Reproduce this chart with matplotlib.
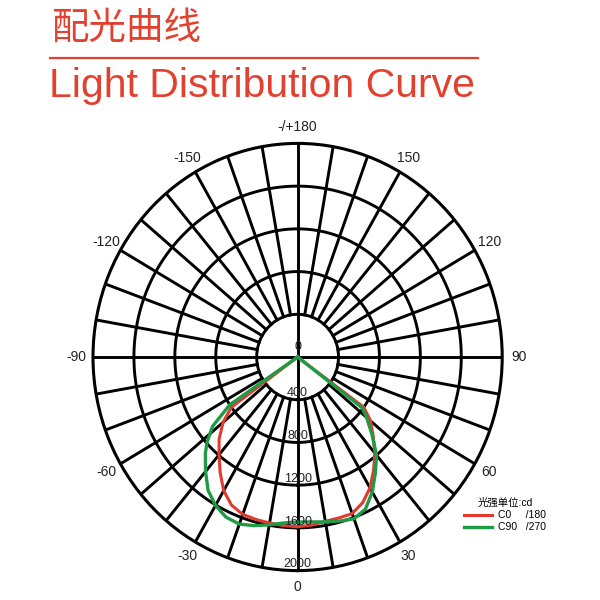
import numpy as np
import matplotlib.pyplot as plt
from matplotlib.lines import Line2D
from matplotlib.transforms import offset_copy

plt.rcParams['font.family'] = ['Liberation Sans', 'Noto Sans CJK SC']

# C0 / C180 plane (red): gamma angle in degrees (negative = C180 side), intensity in cd
red_angle = [-55, -54, -50, -45, -40, -35, -30, -25, -20, -15, -10, -5, 0,
             5, 10, 15, 20, 25, 30, 35, 40, 45, 50, 54, 55]
red_cd = [0, 800, 950, 1085, 1195, 1320, 1445, 1530, 1568, 1575, 1578, 1585, 1590,
          1580, 1562, 1560, 1560, 1505, 1415, 1295, 1175, 1045, 930, 800, 0]

# C90 / C270 plane (green)
green_angle = [-57, -56, -52, -48, -45, -40, -35, -30, -25, -20, -15, -10, -5, 0,
               5, 10, 15, 20, 25, 30, 35, 40, 45, 50, 53, 55]
green_cd = [0, 800, 1055, 1190, 1275, 1400, 1525, 1605, 1655, 1665, 1635, 1595, 1560, 1545,
            1550, 1568, 1590, 1612, 1570, 1460, 1325, 1200, 1030, 880, 790, 0]

ring_values = [400, 800, 1200, 1600, 2000]
ring_labels = ['400', '800', '1200', '1600', '2000']
angle_ticks = [0, 30, 60, 90, 120, 150, 180, -150, -120, -90, -60, -30]
angle_labels = ['0', '30', '60', '90', '120', '150', '-/+180',
                '-150', '-120', '-90', '-60', '-30']

title_red = '#e2412f'
red = '#e23a2e'
green = '#1f9a45'

fig = plt.figure(figsize=(6, 6), dpi=100)

# titles
fig.text(0.087, 0.953, '配光曲线', fontsize=27, color=title_red, va='center',
         family=['Noto Sans CJK SC'])
fig.add_artist(Line2D([0.083, 0.797], [0.903, 0.903], color=title_red, lw=1.6,
                      transform=fig.transFigure))
fig.text(0.082, 0.838, 'Light Distribution Curve', fontsize=29.5, color=title_red,
         va='baseline')

ax = fig.add_axes([0.155, 0.049, 0.682, 0.712], projection='polar')
ax.set_aspect('auto')
ax.set_theta_zero_location('S')
ax.set_theta_direction(1)
ax.set_rlim(0, 2000)
ax.grid(False)
ax.set_xticks([])
ax.set_yticks([])
ax.spines['polar'].set_linewidth(2.2)
ax.spines['polar'].set_color('black')

# grid: rings and spokes
full = np.linspace(0, 2 * np.pi, 400)
for r in ring_values[:-1]:
    ax.plot(full, np.full_like(full, r), color='black', lw=2.1, zorder=1)
for a in range(0, 360, 10):
    t = np.deg2rad(a)
    r0 = 0 if a % 90 == 0 else ring_values[0]
    ax.plot([t, t], [r0, 2000], color='black', lw=2.1, zorder=1)

# curves
line_red, = ax.plot(np.deg2rad(red_angle), red_cd, color=red, lw=2.2, zorder=3)
line_green, = ax.plot(np.deg2rad(green_angle), green_cd, color=green, lw=2.4, zorder=4)

# radial labels along the 0 direction
ax.text(0, 0, '0', fontsize=9, color='#222222', ha='center', va='center',
        transform=offset_copy(ax.transData, fig=fig, x=0, y=7, units='points'), zorder=5)
for r, lab in zip(ring_values, ring_labels):
    ax.text(0, r, lab, fontsize=9, color='#222222', ha='center', va='center',
            transform=offset_copy(ax.transData, fig=fig, x=0, y=4.5, units='points'),
            zorder=5)

# angle labels outside the circle
for a, lab in zip(angle_ticks, angle_labels):
    pad = 12
    dx = pad * np.sin(np.deg2rad(a))
    dy = -pad * np.cos(np.deg2rad(a))
    ax.text(np.deg2rad(a), 2000, lab, fontsize=10, color='#222222',
            ha='center', va='center', clip_on=False,
            transform=offset_copy(ax.transData, fig=fig, x=dx, y=dy, units='points'))

leg = fig.legend([line_red, line_green], ['C0     /180', 'C90   /270'],
                 title='光强单位:cd', loc='upper left', bbox_to_anchor=(0.762, 0.182),
                 frameon=False, fontsize=7.5, title_fontsize=7.5, handlelength=2.6,
                 handletextpad=0.6, labelspacing=0.2, borderpad=0.2)

fig.savefig('out.png', dpi=100)
